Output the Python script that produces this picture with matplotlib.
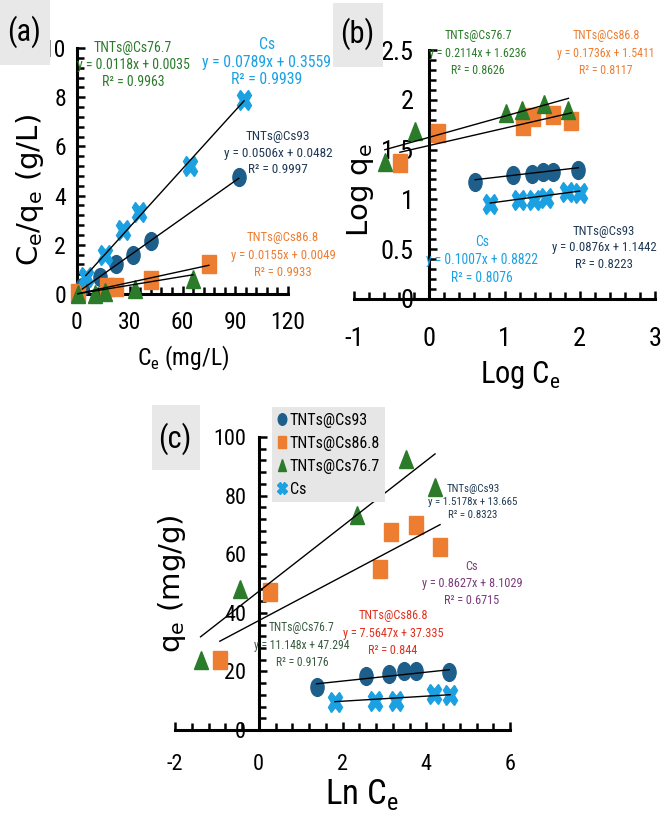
import numpy as np
import matplotlib
matplotlib.use('Agg')
import matplotlib.pyplot as plt
from matplotlib import font_manager
from matplotlib.markers import MarkerStyle
from matplotlib.transforms import Affine2D
from matplotlib.patches import Rectangle
from matplotlib.ticker import MultipleLocator, FuncFormatter

# ---- data ----
# (a) Langmuir: Ce (mg/L) vs Ce/qe (g/L)
a_ce_93 = [3, 13, 22, 32, 42, 92]
a_y_93 = [0.3, 0.7, 1.2, 1.6, 2.15, 4.75]
a_ce_868 = [0.5, 17, 22, 42, 75]
a_y_868 = [0.05, 0.3, 0.3, 0.55, 1.2]
a_ce_767 = [0.5, 10, 16, 33, 66]
a_y_767 = [0.0, 0.02, 0.1, 0.2, 0.6]
a_ce_cs = [5, 16, 26, 35, 64, 95]
a_y_cs = [0.7, 1.6, 2.6, 3.35, 5.2, 7.9]

# (b) Freundlich: log Ce vs log qe
b_x_93 = [0.61, 1.11, 1.36, 1.51, 1.65, 1.98]
b_y_93 = [1.17, 1.24, 1.26, 1.28, 1.28, 1.30]
b_x_868 = [-0.39, 0.12, 1.25, 1.38, 1.64, 1.89]
b_y_868 = [1.37, 1.67, 1.74, 1.83, 1.85, 1.79]
b_x_767 = [-0.59, -0.19, 1.02, 1.23, 1.53, 1.85]
b_y_767 = [1.38, 1.69, 1.87, 1.9, 1.96, 1.9]
b_x_cs = [0.81, 1.19, 1.39, 1.55, 1.83, 2.0]
b_y_cs = [0.95, 0.99, 0.99, 1.01, 1.07, 1.06]

# (c) Temkin: ln Ce vs qe (mg/g)
c_x_93 = [1.38, 2.56, 3.12, 3.48, 3.75, 4.55]
c_y_93 = [14.8, 18.5, 19.2, 20.0, 20.0, 19.8]
c_x_868 = [-0.93, 0.28, 2.9, 3.15, 3.75, 4.33]
c_y_868 = [24, 47, 55, 67.5, 70, 62.5]
c_x_767 = [-1.39, -0.45, 2.34, 2.81, 3.52, 4.21]
c_y_767 = [24, 48, 73.5, 83.5, 92.5, 83]
c_x_cs = [1.82, 2.78, 3.27, 4.19, 4.57]
c_y_cs = [9.5, 9.8, 10.0, 12.2, 11.8]

# fitted lines (slope, intercept) as printed on the chart
fit_a = {'93': (0.0506, 0.0482), '868': (0.0155, 0.0049), '767': (0.0118, 0.0035), 'cs': (0.0789, 0.3559)}
fit_b = {'93': (0.0876, 1.1442), '868': (0.1736, 1.5411), '767': (0.2114, 1.6236), 'cs': (0.1007, 0.8822)}
fit_c = {'93': (1.5178, 13.665), '868': (7.5647, 37.335), '767': (11.148, 47.294), 'cs': (0.8627, 8.1029)}

labels = {'93': 'TNTs@Cs93', '868': 'TNTs@Cs86.8', '767': 'TNTs@Cs76.7', 'cs': 'Cs'}

# ---- style ----
c93 = '#1d5f8a'
c868 = '#ed7d31'
c767 = '#2b7b2b'
ccs = '#1ba1e2'
c_navy = '#203a55'

plt.rcParams['axes.unicode_minus'] = False

names = {f.name for f in font_manager.fontManager.ttflist}
narrow = 'Liberation Sans'
for n in ['Liberation Sans Narrow', 'Roboto Condensed', 'Open Sans Condensed']:
	if n in names:
		narrow = n
		break
NARROW = dict(family=narrow, stretch='condensed')
WIDE = dict(family='DejaVu Sans')

W, H = 661, 817
fig = plt.figure(figsize=(W / 100, H / 100), dpi=100)


def fx(px):
	return px / W


def fy(py):
	return 1 - py / H


def place(x0, x1, ytop, ybot):
	return [fx(x0), fy(ybot), (x1 - x0) / W, (ybot - ytop) / H]


def txt(px, py, s, size, color='black', font=NARROW, ls=1.2, **kw):
	fig.text(fx(px), fy(py), s, fontsize=size, color=color, ha='center', va='center',
			 multialignment='center', linespacing=ls, **font, **kw)


def panel_box(x0, y0, x1, y1, s, cx, cy):
	fig.add_artist(Rectangle((fx(x0), fy(y1)), (x1 - x0) / W, (y1 - y0) / H,
							 transform=fig.transFigure, facecolor='#e8e8e8', edgecolor='none'))
	txt(cx, cy, s, 22, font=dict(family=narrow))


stretch = Affine2D().scale(1.0, 1.35)
markers = {
	'93': MarkerStyle('o', transform=stretch),
	'868': MarkerStyle('s', transform=stretch),
	'767': MarkerStyle('^', transform=stretch),
	'cs': MarkerStyle('X', transform=stretch),
}
colors = {'93': c93, '868': c868, '767': c767, 'cs': ccs}
msize = {'93': 9.5, '868': 9.5, '767': 9.5, 'cs': 10.5}


def series(ax, key, x, y, fit):
	h, = ax.plot(x, y, ls='none', marker=markers[key], ms=msize[key], color=colors[key],
				 mec=colors[key], label=labels[key], zorder=3, clip_on=False)
	xs = np.array([min(x), max(x)])
	ax.plot(xs, fit[0] * xs + fit[1], color='black', lw=1, zorder=4, clip_on=False)
	return h


def style_axes(ax, xmaj, ymaj, xpad, ypad, size, yzero=False):
	ax.set_facecolor('none')
	for s in ['top', 'right']:
		ax.spines[s].set_visible(False)
	for s in ['left', 'bottom']:
		ax.spines[s].set_linewidth(2.2)
	if yzero:
		ax.spines['left'].set_position(('data', 0))
	ax.xaxis.set_major_locator(MultipleLocator(xmaj))
	ax.yaxis.set_major_locator(MultipleLocator(ymaj))
	ax.xaxis.set_minor_locator(MultipleLocator(xmaj / 5))
	ax.yaxis.set_minor_locator(MultipleLocator(ymaj / 5))
	ax.tick_params(which='both', direction='in', width=1.8)
	ax.tick_params(which='major', length=6)
	ax.tick_params(which='minor', length=5)
	ax.tick_params(axis='x', which='major', pad=xpad)
	ax.tick_params(axis='y', which='major', pad=ypad)
	ax.yaxis.set_major_formatter(FuncFormatter(lambda v, p: '%g' % v))
	for lab in ax.get_xticklabels() + ax.get_yticklabels():
		lab.set_fontsize(size)
		lab.set_family(narrow)


# ---- (a) ----
ax_a = fig.add_axes(place(77, 288, 48, 294))
ax_a.set_xlim(0, 120)
ax_a.set_ylim(0, 10)
series(ax_a, '93', a_ce_93, a_y_93, fit_a['93'])
series(ax_a, '868', a_ce_868, a_y_868, fit_a['868'])
series(ax_a, '767', a_ce_767, a_y_767, fit_a['767'])
series(ax_a, 'cs', a_ce_cs, a_y_cs, fit_a['cs'])
style_axes(ax_a, 30, 2, 12, 8, 17)

panel_box(0, 0, 50, 65, '(a)', 24, 32)
txt(30, 190, r'C$_\mathregular{e}$/q$_\mathregular{e}$ (g/L)', 21, font=WIDE, rotation=90)
txt(183, 358, r'C$_\mathregular{e}$ (mg/L)', 17)
txt(133, 65, 'TNTs@Cs76.7\ny = 0.0118x + 0.0035\nR² = 0.9963', 10, c767, ls=1.3)
txt(267, 62, 'Cs\ny = 0.0789x + 0.3559\nR² = 0.9939', 11.3, ccs, ls=1.2)
txt(278, 153, 'TNTs@Cs93\ny = 0.0506x + 0.0482\nR² = 0.9997', 9.5, c_navy, ls=1.35)
txt(283, 255, 'TNTs@Cs86.8\ny = 0.0155x + 0.0049\nR² = 0.9933', 9.2, c868, ls=1.4)

# ---- (b) ----
ax_b = fig.add_axes(place(354, 655, 50, 299))
ax_b.set_xlim(-1, 3)
ax_b.set_ylim(0, 2.5)
series(ax_b, '93', b_x_93, b_y_93, fit_b['93'])
series(ax_b, '868', b_x_868, b_y_868, fit_b['868'])
series(ax_b, '767', b_x_767, b_y_767, fit_b['767'])
series(ax_b, 'cs', b_x_cs, b_y_cs, fit_b['cs'])
style_axes(ax_b, 1, 0.5, 20, 11, 19, yzero=True)

panel_box(333, 3, 383, 67, '(b)', 357, 34)
txt(361, 190, r'Log q$_\mathregular{e}$', 21, font=WIDE, rotation=90)
txt(520, 375, r'Log C$_\mathregular{e}$', 22)
txt(478, 53, 'TNTs@Cs76.7\ny = 0.2114x + 1.6236\nR² = 0.8626', 8.6, c767, ls=1.5)
txt(606, 53, 'TNTs@Cs86.8\ny = 0.1736x + 1.5411\nR² = 0.8117', 8.6, c868, ls=1.5)
txt(482, 260, 'Cs\ny = 0.1007x + 0.8822\nR² = 0.8076', 9.8, ccs, ls=1.4)
txt(604, 248, 'TNTs@Cs93\ny = 0.0876x + 1.1442\nR² = 0.8223', 9.2, c_navy, ls=1.4)

# ---- (c) ----
ax_c = fig.add_axes(place(175, 510, 437, 730))
ax_c.set_xlim(-2, 6)
ax_c.set_ylim(0, 100)
h1 = series(ax_c, '93', c_x_93, c_y_93, fit_c['93'])
h2 = series(ax_c, '868', c_x_868, c_y_868, fit_c['868'])
h3 = series(ax_c, '767', c_x_767, c_y_767, fit_c['767'])
h4 = series(ax_c, 'cs', c_x_cs, c_y_cs, fit_c['cs'])
style_axes(ax_c, 2, 20, 17, 9, 16, yzero=True)

leg = ax_c.legend(handles=[h1, h2, h3, h4], loc='upper left', bbox_to_anchor=(fx(272), fy(407)),
				  bbox_transform=fig.transFigure, borderaxespad=0, frameon=True, fancybox=False,
				  facecolor='#e6e6e6', edgecolor='none', framealpha=1, markerscale=0.65,
				  handlelength=0.5, handletextpad=0.25, labelspacing=0.5, borderpad=0.35,
				  prop=dict(family=narrow, size=11.5))

panel_box(152, 405, 200, 470, '(c)', 175, 439)
txt(172, 584, r'q$_\mathregular{e}$ (mg/g)', 21, font=WIDE, rotation=90)
txt(362, 795, r'Ln C$_\mathregular{e}$', 25)
txt(473, 502, 'TNTs@Cs93\ny = 1.5178x + 13.665\nR² = 0.8323', 7.8, c_navy, ls=1.4)
txt(472, 583, 'Cs\ny = 0.8627x + 8.1029\nR² = 0.6715', 8.8, '#7a3b7a', ls=1.4)
txt(393, 633, 'TNTs@Cs86.8\ny = 7.5647x + 37.335\nR² = 0.844', 8.8, '#e0301e', ls=1.4)
txt(302, 645, 'TNTs@Cs76.7\ny = 11.148x + 47.294\nR² = 0.9176', 8.4, '#375a3f', ls=1.5)

fig.savefig('out.png', dpi=100, facecolor='white')
